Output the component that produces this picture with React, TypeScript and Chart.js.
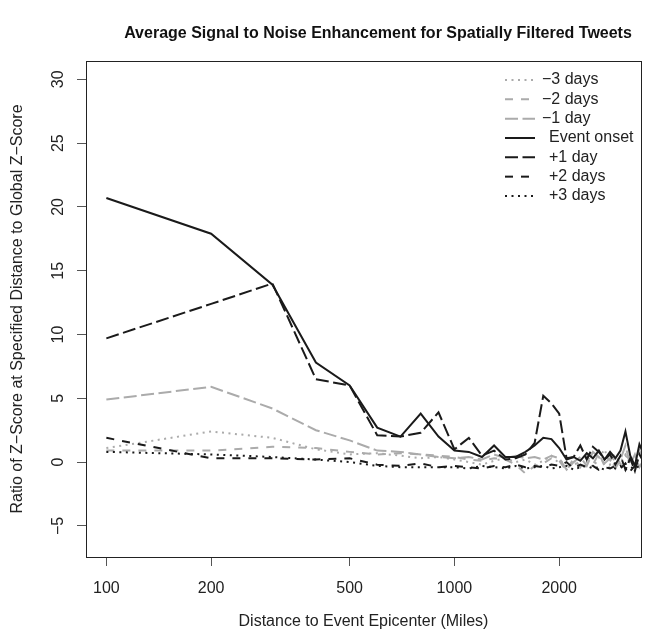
import React, { useEffect, useRef } from "react";
import { Chart, registerables } from "chart.js";

Chart.register(...registerables);

// ---- data ----
const distances = [
  100, 200, 300, 400, 500, 600, 700, 800, 900, 1000,
  1100, 1200, 1300, 1400, 1500, 1600, 1700, 1800, 1900, 2000,
  2100, 2200, 2300, 2400, 2500, 2600, 2700, 2800, 2900, 3000,
  3100, 3200, 3300, 3400, 3500,
];

const minus3Days = [
  1.1, 2.4, 1.9, 1.0, 0.6, 0.7, 0.5, 0.3, 0.4, 0.2,
  0.0, -0.2, 0.1, 0.3, 0.0, 0.2, -0.2, 0.1, 0.5, -0.1,
  0.3, -0.3, 0.2, 0.0, -0.4, 0.3, 1.0, -0.2, 0.4, 0.0,
  0.6, -0.1, 0.3, 0.0, 0.2,
];
const minus2Days = [
  0.9, 0.9, 1.2, 1.1, 0.8, 0.6, 0.7, 0.6, 0.5, 0.4,
  0.2, 0.1, 0.3, 0.2, -0.2, -0.9, -0.3, -0.1, 0.3, 0.1,
  -0.7, 0.3, -0.4, 0.5, -0.2, 0.7, -0.3, 0.1, 0.7, -0.2,
  0.5, 0.2, -0.5, 0.9, 0.1,
];
const minus1Day = [
  4.9, 5.9, 4.2, 2.5, 1.7, 0.9, 0.8, 0.6, 0.4, 0.3,
  0.4, 0.2, 0.6, 0.3, 0.5, 0.3, 0.4, 0.2, 0.5, 0.3,
  -0.6, 0.0, 0.4, -0.3, 0.8, 0.4, -0.1, 0.3, -0.5, 0.2,
  1.3, -0.2, 0.6, -0.4, 0.2,
];
const eventOnset = [
  20.7, 17.9, 13.9, 7.8, 6.0, 2.7, 2.0, 3.8, 2.0, 0.9,
  0.8, 0.4, 1.3, 0.4, 0.4, 0.8, 1.3, 1.9, 1.8, 1.1,
  0.2, 0.4, 0.1, 0.7, 0.3, 0.9, 0.2, 0.8, 0.3, 0.9,
  2.4, 0.5, -0.3, 1.4, 0.6,
];
const plus1Day = [
  9.7, 12.4, 14.0, 6.5, 6.0, 2.1, 2.0, 2.3, 3.9, 1.0,
  1.9, 0.5, 0.9, 0.2, 0.3, 0.6, 1.5, 5.2, 4.6, 3.8,
  0.3, 0.4, 1.3, 0.2, 1.2, 0.8, 0.2, 0.6, -0.2, 0.5,
  -0.6, 0.3, -0.7, 0.6, 0.0,
];
const plus2Days = [
  1.9, 0.3, 0.3, 0.2, 0.3, -0.2, -0.3, -0.1, -0.4, -0.3,
  -0.4, -0.5, -0.3, -0.4, -0.2, -0.4, -0.3, -0.4, -0.2, -0.3,
  0.0, -0.5, -0.2, -0.4, -0.3, -0.6, -0.4, -0.5, -0.3, -0.5,
  -0.1, -0.7, -0.3, -0.5, -0.4,
];
const plus3Days = [
  0.8, 0.6, 0.4, 0.2, 0.0, -0.3, -0.4, -0.4, -0.4, -0.4,
  -0.5, -0.3, -0.4, -0.5, -0.3, -0.5, -0.4, -0.3, -0.5, -0.4,
  -0.3, -0.6, -0.4, -0.3, -0.5, -0.4, -0.6, -0.4, -0.5, -0.3,
  -0.6, -0.4, -0.5, -0.3, -0.4,
];

const seriesLabels = ["−3 days", "−2 days", "−1 day", "Event onset", "+1 day", "+2 days", "+3 days"];
const seriesValues = [minus3Days, minus2Days, minus1Day, eventOnset, plus1Day, plus2Days, plus3Days];

const xTicks = [100, 200, 500, 1000, 2000];
const yTicks = [-5, 0, 5, 10, 15, 20, 25, 30];

const titleText = "Average Signal to Noise Enhancement for Spatially Filtered Tweets";
const xTitle = "Distance to Event Epicenter (Miles)";
const yTitle = "Ratio of Z−Score at Specified Distance to Global Z−Score";

// ---- styles ----
const BLACK = "#1a1a1a";
const GRAY = "#ababab";
const DOTTED = [2, 4.5];
const DASHED = [8, 8];
const LONGDASH = [13, 4.5];
const seriesStyles = [
  { color: GRAY, dash: DOTTED },
  { color: GRAY, dash: DASHED },
  { color: GRAY, dash: LONGDASH },
  { color: BLACK, dash: [] as number[] },
  { color: BLACK, dash: LONGDASH },
  { color: BLACK, dash: DASHED },
  { color: BLACK, dash: DOTTED },
];

const FONT = '"Liberation Sans", Arial, Helvetica, sans-serif';

const fmt = (v: number) => (v < 0 ? "−" + Math.abs(v) : String(v));

const rStylePlugin = {
  id: "rStyle",
  afterDraw(chart: any) {
    const { ctx, chartArea: a, scales } = chart;
    ctx.save();
    // box
    ctx.strokeStyle = "#222";
    ctx.lineWidth = 1;
    ctx.setLineDash([]);
    ctx.strokeRect(Math.round(a.left) + 0.5, Math.round(a.top) + 0.5, Math.round(a.right - a.left), Math.round(a.bottom - a.top));

    ctx.fillStyle = "#222";
    ctx.font = `16px ${FONT}`;
    // x tick labels
    ctx.textAlign = "center";
    ctx.textBaseline = "alphabetic";
    xTicks.forEach((v) => {
      ctx.fillText(String(v), scales.x.getPixelForValue(v), a.bottom + 36);
    });
    // y tick labels (rotated)
    yTicks.forEach((v) => {
      const y = scales.y.getPixelForValue(v);
      ctx.save();
      ctx.translate(a.left - 23, y);
      ctx.rotate(-Math.PI / 2);
      ctx.textAlign = "center";
      ctx.fillText(fmt(v), 0, 0);
      ctx.restore();
    });
    // axis titles
    ctx.fillText(xTitle, (a.left + a.right) / 2, a.bottom + 69);
    ctx.save();
    ctx.translate(22, (a.top + a.bottom) / 2);
    ctx.rotate(-Math.PI / 2);
    ctx.textAlign = "center";
    ctx.fillText(yTitle, 0, 0);
    ctx.restore();
    // main title
    ctx.fillStyle = "#111";
    ctx.font = `bold 16px ${FONT}`;
    ctx.fillText(titleText, 378, 38);

    // legend
    ctx.font = `16px ${FONT}`;
    ctx.textAlign = "left";
    ctx.textBaseline = "middle";
    seriesLabels.forEach((label, i) => {
      const y = 80 + i * 19.33;
      const st = seriesStyles[i];
      ctx.strokeStyle = st.color;
      ctx.lineWidth = 2;
      ctx.setLineDash(st.dash);
      ctx.beginPath();
      ctx.moveTo(505, y);
      ctx.lineTo(535, y);
      ctx.stroke();
      ctx.setLineDash([]);
      ctx.fillStyle = "#222";
      const tx = label.startsWith("−") ? 542 : 549;
      ctx.fillText(label, tx, y);
    });
    ctx.restore();
  },
};

export default function App() {
  const canvasRef = useRef<HTMLCanvasElement | null>(null);

  useEffect(() => {
    document.body.style.margin = "0";
    const canvas = canvasRef.current;
    if (!canvas) return;
    const datasets = seriesLabels.map((label, i) => ({
      label,
      data: distances.map((d, j) => ({ x: d, y: seriesValues[i][j] })),
      borderColor: seriesStyles[i].color,
      borderDash: seriesStyles[i].dash,
      borderWidth: 2,
      pointRadius: 0,
      fill: false,
      tension: 0,
      order: seriesLabels.length - i,
    }));
    const chart = new Chart(canvas, {
      type: "line",
      data: { datasets },
      options: {
        responsive: false,
        animation: false,
        events: [],
        layout: { padding: { top: 61, right: 20, left: 0, bottom: 0 } },
        plugins: {
          legend: { display: false },
          tooltip: { enabled: false },
          title: { display: false },
        },
        scales: {
          x: {
            type: "logarithmic",
            min: 87.4,
            max: 3436,
            afterBuildTicks: (scale: any) => {
              scale.ticks = xTicks.map((value) => ({ value }));
            },
            afterFit: (scale: any) => {
              scale.height = 75;
            },
            ticks: { display: false },
            grid: { display: true, drawOnChartArea: false, drawTicks: true, tickLength: 9, color: "#555", lineWidth: 1 },
            border: { display: false },
          },
          y: {
            type: "linear",
            min: -7.44,
            max: 31.44,
            afterBuildTicks: (scale: any) => {
              scale.ticks = yTicks.map((value) => ({ value }));
            },
            afterFit: (scale: any) => {
              scale.width = 86;
            },
            ticks: { display: false },
            grid: { display: true, drawOnChartArea: false, drawTicks: true, tickLength: 9, color: "#555", lineWidth: 1 },
            border: { display: false },
          },
        },
      },
      plugins: [rStylePlugin],
    } as any);
    return () => chart.destroy();
  }, []);

  return (
    <div style={{ width: 661, height: 632, background: "#fff" }}>
      <canvas ref={canvasRef} width={661} height={632} style={{ display: "block" }} />
    </div>
  );
}
